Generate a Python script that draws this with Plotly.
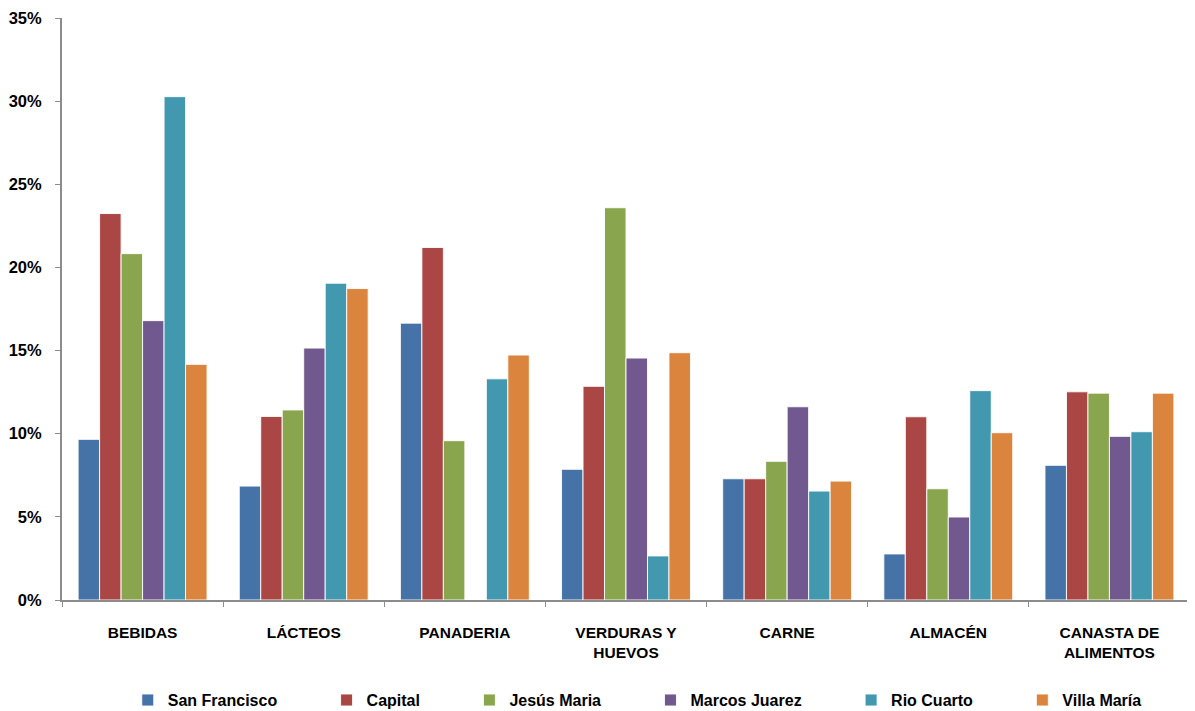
import plotly.graph_objects as go

categories = ["BEBIDAS", "LÁCTEOS", "PANADERIA", "VERDURAS Y<br>HUEVOS", "CARNE", "ALMACÉN", "CANASTA DE<br>ALIMENTOS"]

san_francisco = [0.0966, 0.0685, 0.1665, 0.0786, 0.0729, 0.0277, 0.0810]
capital       = [0.2324, 0.1104, 0.2120, 0.1285, 0.0729, 0.1102, 0.1252]
jesus_maria   = [0.2083, 0.1143, 0.0958, 0.2359, 0.0834, 0.0669, 0.1244]
marcos_juarez = [0.1680, 0.1515, 0.0, 0.1455, 0.1162, 0.0499, 0.0984]
rio_cuarto    = [0.3027, 0.1905, 0.1330, 0.0265, 0.0655, 0.1259, 0.1012]
villa_maria   = [0.1417, 0.1873, 0.1473, 0.1487, 0.0715, 0.1006, 0.1244]

series_names = ["San Francisco", "Capital", "Jesús Maria", "Marcos Juarez", "Rio Cuarto", "Villa María"]
series_values = [san_francisco, capital, jesus_maria, marcos_juarez, rio_cuarto, villa_maria]
colors = ["#4572A7", "#AA4643", "#89A54E", "#71588F", "#4198AF", "#DB843D"]

y_ticks = [0, 0.05, 0.10, 0.15, 0.20, 0.25, 0.30, 0.35]

FONT = "Liberation Sans, Arial, sans-serif"
PAD = "\u00a0" * 10

fig = go.Figure()
n = len(series_names)
for i, (name, vals, col) in enumerate(zip(series_names, series_values, colors)):
    label = "<b>" + name + "</b>" + (PAD if i < n - 1 else "")
    fig.add_trace(go.Bar(
        x=categories, y=vals, name=label,
        marker=dict(color=col, line=dict(color="rgba(255,255,255,0.9)", width=1)),
    ))

# page has an 8px body margin, so the figure is sized 8px smaller
fig.update_layout(
    width=1187, height=703,
    barmode="group", bargap=0.2, bargroupgap=0.0,
    plot_bgcolor="white", paper_bgcolor="white",
    margin=dict(l=54, r=5, t=10, b=111, autoexpand=False),
    font=dict(family=FONT, size=14, color="black"),
    showlegend=True,
    legend=dict(orientation="h", x=0.51, xanchor="center", y=-0.172, yanchor="middle",
                font=dict(family=FONT, size=16, color="black"),
                itemwidth=30),
)
fig.update_xaxes(
    automargin=False,
    showline=True, linecolor="#8c8c8c", linewidth=2,
    ticks="outside", ticklen=5, tickcolor="#8c8c8c", tickwidth=1,
    tickson="boundaries", showgrid=False,
    tickfont=dict(family=FONT, size=15.5, color="black", weight="bold"),
    ticklabelstandoff=17,
)
fig.update_yaxes(
    automargin=False,
    range=[0, 0.35], tickvals=y_ticks, tickformat=".0%",
    showline=True, linecolor="#8c8c8c", linewidth=2,
    ticks="outside", ticklen=5, tickcolor="#8c8c8c", tickwidth=1,
    showgrid=False, zeroline=False,
    tickfont=dict(family=FONT, size=16.5, color="black", weight="bold"),
    ticklabelstandoff=10,
)

fig.write_html("out.html")
